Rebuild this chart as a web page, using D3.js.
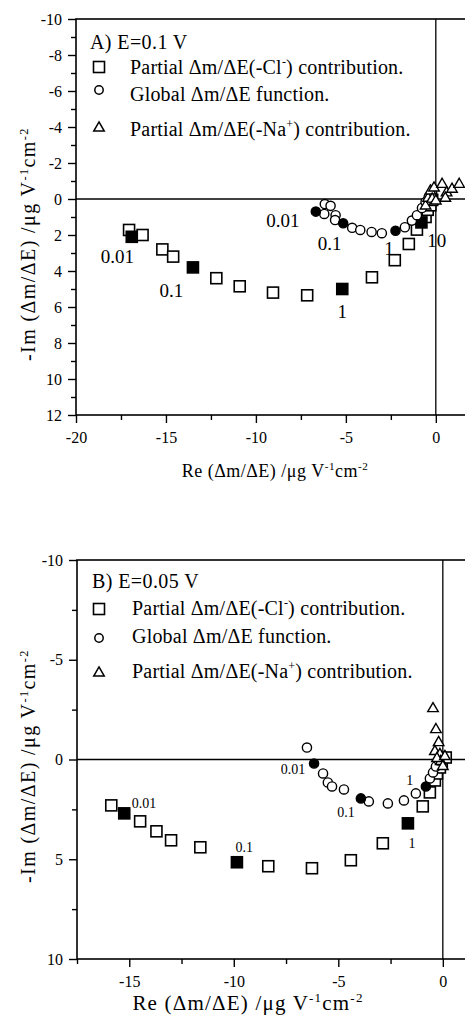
<!DOCTYPE html>
<html>
<head>
<meta charset="utf-8">
<script src="https://cdn.jsdelivr.net/npm/d3@7"></script>
<style>
  body { margin: 0; background: #fff; }
  text { font-family: "Liberation Serif", "Times New Roman", serif; fill: #000; }
</style>
</head>
<body>
<div id="chart"></div>
<script>
// ---- panel A (E = 0.1 V), points are [Re, -Im]
const aCl = [[-17.05,1.72],[-16.3,2.0],[-15.2,2.8],[-14.6,3.2],[-12.2,4.4],[-10.9,4.85],[-9.05,5.2],
  [-7.15,5.35],[-3.55,4.35],[-2.28,3.4],[-1.5,2.5],[-1.05,1.7],[-0.57,1.0],[-0.45,0.6],[-0.3,0.35],[-0.2,0.05]];
const aClMarked = [[-16.9,2.1],[-13.5,3.8],[-5.2,5.0],[-0.8,1.3]];
const aGlobal = [[-6.17,0.28],[-5.85,0.38],[-6.2,0.83],[-5.57,0.9],[-5.6,1.17],[-4.65,1.6],[-4.2,1.72],
  [-3.57,1.83],[-3.0,1.9],[-1.72,1.57],[-1.33,1.2],[-1.05,0.9],[-0.77,0.5],[-0.57,0.17],[-0.4,-0.1],[-0.2,-0.3]];
const aGlobalMarked = [[-6.67,0.7],[-5.15,1.35],[-2.24,1.76]];
const aNa = [[-0.57,0.33],[-0.43,-0.1],[-0.3,-0.5],[-0.1,-0.67],[0.35,-0.87],[0.6,-0.4],[0.53,-0.1],
  [0.9,-0.6],[1.3,-0.87],[-0.2,-0.05],[0.0,0.05]];
const aNotes = [[-17.7,3.55,"0.01"],[-14.7,5.45,"0.1"],[-5.2,6.6,"1"],[-8.5,1.55,"0.01"],
  [-5.9,2.83,"0.1"],[-2.6,3.1,"1"],[0.05,2.67,"10"]];
const aXTicks = [-20,-15,-10,-5,0];
const aXMinor = [-17.5,-12.5,-7.5,-2.5];
const aYTicks = [-10,-8,-6,-4,-2,0,2,4,6,8,10,12];
const aYMinor = [-9,-7,-5,-3,-1,1,3,5,7,9,11];

// ---- panel B (E = 0.05 V)
const bCl = [[-15.86,2.3],[-14.48,3.1],[-13.7,3.6],[-13.0,4.05],[-11.6,4.4],[-8.35,5.35],[-6.26,5.45],
  [-4.4,5.05],[-2.87,4.2],[-0.96,2.35],[-0.62,1.65],[-0.38,1.05],[-0.28,0.7],[-0.14,0.4],[-0.05,0.2],[0.14,-0.1]];
const bClMarked = [[-15.24,2.7],[-9.85,5.15],[-1.67,3.2]];
const bGlobal = [[-6.5,-0.6],[-5.73,0.7],[-5.5,1.15],[-5.3,1.35],[-4.73,1.5],[-3.54,2.1],[-2.63,2.2],
  [-1.86,2.05],[-1.29,1.7],[-0.62,0.95],[-0.47,0.65],[-0.33,0.35],[-0.19,0.05]];
const bGlobalMarked = [[-6.16,0.2],[-3.92,1.95],[-0.81,1.35]];
const bNa = [[-0.47,-2.6],[-0.33,-1.55],[-0.2,-0.9],[-0.38,-0.45],[-0.14,-0.3],[-0.1,0.05],[-0.28,-0.1],
  [0.0,0.3],[0.1,-0.2]];
const bNotes = [[-14.29,2.45,"0.01"],[-7.17,0.75,"0.01"],[-9.5,4.65,"0.1"],[-4.63,2.9,"0.1"],
  [-1.58,1.3,"1"],[-1.48,4.45,"1"]];
const bXTicks = [-15,-10,-5,0];
const bXMinor = [-17.5,-12.5,-7.5,-2.5];
const bYTicks = [-10,-5,0,5,10];
const bYMinor = [-7.5,-2.5,2.5,7.5];

const svg = d3.select("#chart").append("svg")
  .attr("width", 465)
  .attr("height", 1022);

function unitText(sel, before) {
  sel.append("tspan").text(before);
  sel.append("tspan").attr("font-size", "0.62em").attr("dy", "-0.6em").text("-1");
  sel.append("tspan").attr("dy", "0.37em").text("cm");
  sel.append("tspan").attr("font-size", "0.62em").attr("dy", "-0.6em").text("-2");
}

function styleTicks(ax) {
  ax.select(".domain").remove();
  ax.selectAll(".tick line").attr("stroke-width", 1.4);
  ax.selectAll(".tick text")
    .style("font-family", "'Liberation Serif', serif")
    .style("font-size", "16px")
    .text(function(d) { return d < 0 ? "-" + Math.abs(d) : d; });
}

function drawPanel(p) {
  let g = svg.append("g");
  let x = d3.scaleLinear().domain(p.xDomain).range([p.left, p.right]);
  let y = d3.scaleLinear().domain(p.yDomain).range([p.top, p.bottom]);

  // frame
  g.append("rect")
    .attr("x", p.left).attr("y", p.top)
    .attr("width", p.right - p.left).attr("height", p.bottom - p.top)
    .attr("fill", "none").attr("stroke", "black").attr("stroke-width", 1.6);
  // zero lines
  g.append("line").attr("x1", x(0)).attr("x2", x(0)).attr("y1", p.top).attr("y2", p.bottom)
    .attr("stroke", "black").attr("stroke-width", 1.3);
  g.append("line").attr("x1", p.left).attr("x2", p.right).attr("y1", y(0)).attr("y2", y(0))
    .attr("stroke", "black").attr("stroke-width", 1.3);

  // axes
  let xAx = g.append("g").attr("transform", "translate(0," + p.bottom + ")")
    .call(d3.axisBottom(x).tickValues(p.xTicks).tickSize(8).tickSizeOuter(0).tickPadding(9));
  styleTicks(xAx);
  let xMin = g.append("g").attr("transform", "translate(0," + p.bottom + ")")
    .call(d3.axisBottom(x).tickValues(p.xMinor).tickSize(5).tickSizeOuter(0).tickFormat(""));
  xMin.select(".domain").remove();
  xMin.selectAll(".tick line").attr("stroke-width", 1.4);
  let yAx = g.append("g").attr("transform", "translate(" + p.left + ",0)")
    .call(d3.axisLeft(y).tickValues(p.yTicks).tickSize(8).tickSizeOuter(0).tickPadding(6));
  styleTicks(yAx);
  let yMin = g.append("g").attr("transform", "translate(" + p.left + ",0)")
    .call(d3.axisLeft(y).tickValues(p.yMinor).tickSize(5).tickSizeOuter(0).tickFormat(""));
  yMin.select(".domain").remove();
  yMin.selectAll(".tick line").attr("stroke-width", 1.4);

  // axis titles
  let xt = g.append("text")
    .attr("x", p.xTitle[0]).attr("y", p.xTitle[1])
    .attr("text-anchor", "middle")
    .attr("font-size", p.xTitleSize)
    .attr("letter-spacing", p.xTitleSpacing);
  unitText(xt, "Re (\u0394m/\u0394E) /\u03bcg V");
  let yt = g.append("text")
    .attr("transform", "translate(" + p.yTitle[0] + "," + p.yTitle[1] + ") rotate(-90)")
    .attr("text-anchor", "middle")
    .attr("font-size", 20)
    .attr("letter-spacing", 1.4);
  unitText(yt, "-Im (\u0394m/\u0394E) /\u03bcg V");

  // markers
  let s = 11;
  g.append("g").selectAll("rect")
    .data(p.cl).join("rect")
    .attr("x", d => x(d[0]) - s / 2).attr("y", d => y(d[1]) - s / 2)
    .attr("width", s).attr("height", s)
    .attr("fill", "white").attr("stroke", "black").attr("stroke-width", 1.6);
  g.append("g").selectAll("rect")
    .data(p.clMarked).join("rect")
    .attr("x", d => x(d[0]) - s / 2).attr("y", d => y(d[1]) - s / 2)
    .attr("width", s).attr("height", s)
    .attr("fill", "black").attr("stroke", "black").attr("stroke-width", 1.6);
  g.append("g").selectAll("circle")
    .data(p.global).join("circle")
    .attr("cx", d => x(d[0])).attr("cy", d => y(d[1])).attr("r", 4.6)
    .attr("fill", "white").attr("stroke", "black").attr("stroke-width", 1.4);
  g.append("g").selectAll("circle")
    .data(p.globalMarked).join("circle")
    .attr("cx", d => x(d[0])).attr("cy", d => y(d[1])).attr("r", 4.6)
    .attr("fill", "black").attr("stroke", "black").attr("stroke-width", 1.4);
  let tri = d3.symbol().type(d3.symbolTriangle).size(48);
  g.append("g").selectAll("path")
    .data(p.na).join("path")
    .attr("d", tri)
    .attr("transform", d => "translate(" + x(d[0]) + "," + (y(d[1]) + 1) + ")")
    .attr("fill", "white").attr("stroke", "black").attr("stroke-width", 1.4);

  // frequency notes
  g.append("g").selectAll("text")
    .data(p.notes).join("text")
    .attr("x", d => x(d[0])).attr("y", d => y(d[1]))
    .attr("text-anchor", "middle")
    .attr("font-size", p.noteSize)
    .text(d => d[2]);

  // legend
  let lg = g.append("g");
  lg.append("text").attr("x", p.leg.x0).attr("y", p.leg.head)
    .attr("font-size", 20).attr("letter-spacing", 0.4).text(p.title);
  let mx = p.leg.mx, tx = p.leg.tx;
  lg.append("rect").attr("x", mx - 5.5).attr("y", p.leg.rows[0] - 5.5).attr("width", 11).attr("height", 11)
    .attr("fill", "white").attr("stroke", "black").attr("stroke-width", 1.6);
  lg.append("circle").attr("cx", mx).attr("cy", p.leg.rows[1]).attr("r", 4.2)
    .attr("fill", "white").attr("stroke", "black").attr("stroke-width", 1.5);
  lg.append("path").attr("d", tri).attr("transform", "translate(" + mx + "," + (p.leg.rows[2] + 1) + ")")
    .attr("fill", "white").attr("stroke", "black").attr("stroke-width", 1.5);

  let t1 = lg.append("text").attr("x", tx).attr("y", p.leg.base[0])
    .attr("font-size", 20).attr("letter-spacing", 0.2);
  t1.append("tspan").text("Partial \u0394m/\u0394E(-Cl");
  t1.append("tspan").attr("font-size", "0.6em").attr("dy", "-0.65em").text("-");
  t1.append("tspan").attr("dy", "0.4em").text(") contribution.");
  lg.append("text").attr("x", tx).attr("y", p.leg.base[1])
    .attr("font-size", 20).attr("letter-spacing", 0.2)
    .text("Global \u0394m/\u0394E function.");
  let t3 = lg.append("text").attr("x", tx).attr("y", p.leg.base[2])
    .attr("font-size", 20).attr("letter-spacing", 0.2);
  t3.append("tspan").text("Partial \u0394m/\u0394E(-Na");
  t3.append("tspan").attr("font-size", "0.6em").attr("dy", "-0.65em").text("+");
  t3.append("tspan").attr("dy", "0.4em").text(") contribution.");
}

drawPanel({
  xDomain: [-20, 1.9], yDomain: [-10, 12],
  left: 76, right: 470, top: 19, bottom: 415,
  xTicks: aXTicks, xMinor: aXMinor, yTicks: aYTicks, yMinor: aYMinor,
  cl: aCl, clMarked: aClMarked, global: aGlobal, globalMarked: aGlobalMarked, na: aNa,
  notes: aNotes, noteSize: 19,
  xTitle: [275, 477], xTitleSize: 18, xTitleSpacing: 0.5,
  yTitle: [35, 244],
  title: "A) E=0.1 V",
  leg: { x0: 90, head: 49, mx: 99, tx: 130, rows: [67, 90, 127], base: [74, 101, 136] }
});

drawPanel({
  xDomain: [-17.5, 1.3], yDomain: [-10, 10],
  left: 77, right: 470, top: 560, bottom: 959,
  xTicks: bXTicks, xMinor: bXMinor, yTicks: bYTicks, yMinor: bYMinor,
  cl: bCl, clMarked: bClMarked, global: bGlobal, globalMarked: bGlobalMarked, na: bNa,
  notes: bNotes, noteSize: 14,
  xTitle: [248, 1010], xTitleSize: 21, xTitleSpacing: 1.2,
  yTitle: [35, 766],
  title: "B) E=0.05 V",
  leg: { x0: 92, head: 588, mx: 99, tx: 132, rows: [609, 638, 672], base: [615, 643, 678] }
});
</script>
</body>
</html>
